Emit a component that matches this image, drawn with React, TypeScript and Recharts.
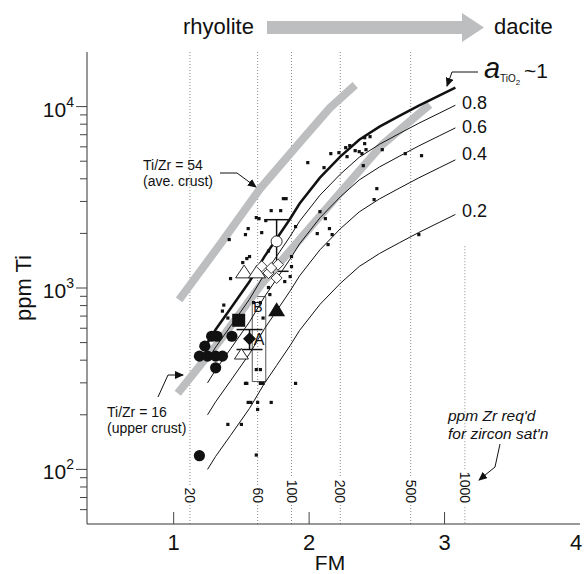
import React from 'react';
import {
  ScatterChart,
  Scatter,
  XAxis,
  YAxis,
  ReferenceLine,
  ReferenceArea,
  ErrorBar,
} from 'recharts';

const FONT = '"Liberation Sans", Arial, Helvetica, sans-serif';
const INK = '#111';
const BAND = '#bcbec0';

// a(TiO2) isopleths, read along FM
const curveFm = [1.25, 1.31, 1.42, 1.56, 1.67, 1.76, 1.86, 1.93, 2.08, 2.23, 2.37, 2.52, 2.67, 2.81, 2.96, 3.08];
const tiA10 = [500, 590, 770, 1085, 1490, 1870, 2410, 2920, 4060, 5300, 6570, 7750, 8910, 10120, 11490, 12720];
const tiA08 = [400, 472, 616, 868, 1192, 1496, 1928, 2336, 3248, 4240, 5256, 6200, 7128, 8096, 9192, 10176];
const tiA06 = [300, 354, 462, 651, 894, 1122, 1446, 1752, 2436, 3180, 3942, 4650, 5346, 6072, 6894, 7632];
const tiA04 = [200, 236, 308, 434, 596, 748, 964, 1168, 1624, 2120, 2628, 3100, 3564, 4048, 4596, 5088];
const tiA02 = [100, 118, 154, 217, 298, 374, 482, 584, 812, 1060, 1314, 1550, 1782, 2024, 2298, 2544];

// Ti/Zr reference bands
const band54Fm = [1.04, 1.34, 1.64, 1.93, 2.15, 2.34];
const band54Ti = [860, 1730, 3545, 6330, 9780, 13150];
const band16Fm = [1.03, 1.34, 1.64, 1.93, 2.23, 2.54, 2.89];
const band16Ti = [263, 511, 1032, 1849, 3357, 6169, 10250];

// Zr needed for zircon saturation
const zrLabels = ['20', '60', '100', '200', '500', '1000'];
const zrFm = [1.12, 1.62, 1.87, 2.23, 2.75, 3.15];
const zrTopTi = 1700; // the 1000 line starts lower

// small black squares (whole-rock / glass data)
const dotFm = [
  1.99, 2.11, 2.16, 2.22, 2.27, 2.30, 2.28, 2.34, 2.37, 2.41, 2.41, 2.45, 2.42, 2.39, 2.54, 2.40,
  2.71, 2.83, 2.50, 2.48, 2.81, 2.08, 2.12, 2.15, 2.17, 2.14, 2.06, 1.81, 1.83, 1.72, 1.79, 1.61,
  1.63, 1.68, 1.55, 1.53, 1.41, 1.65, 1.56, 1.54, 1.51, 1.42, 1.87, 1.87, 1.86, 1.82, 1.70, 1.71,
  1.70, 1.37, 1.36, 1.40, 1.66, 1.59, 1.64, 1.61, 1.64, 1.53, 1.54, 1.64, 1.66, 1.90, 1.55, 1.57,
  1.62, 1.72, 1.62, 1.40, 1.50, 1.61, 1.90,
];
const dotTi = [
  4911, 4609, 5505, 5574, 5940, 6093, 5298, 5718, 5646, 6742, 6250, 6829, 5790, 5505, 5790, 4726,
  5505, 5365, 3530, 3071, 1970, 2636, 2412, 2126, 1970, 1735, 1995, 3109, 3109, 2670, 2670, 2444,
  2412, 2353, 2126, 1970, 1849, 2020, 1490, 1453, 1381, 1127, 1490, 1313, 1156, 1085, 1006, 920,
  1598, 805, 746, 683, 683, 831, 831, 355, 355, 298, 298, 298, 298, 298, 234, 234,
  234, 234, 214, 177, 177, 120, 2181,
];

// individual unit symbols
const circleFm = [1.28, 1.32, 1.43, 1.23, 1.19, 1.25, 1.31, 1.36, 1.31, 1.19];
const circleTi = [542, 542, 542, 478, 421, 421, 421, 421, 363, 119];
const squareFm = [1.48];
const squareTi = [664];
const diamondFm = [1.56];
const diamondTi = [525];
const diamondErr = [[67, 65]];
const triFilledFm = [1.76];
const triFilledTi = [754];
const triOpenFm = [1.52, 1.615, 1.5];
const triOpenTi = [1220, 1220, 430];
const triOpenSize = [17, 17, 14];
const openCircleFm = [1.76];
const openCircleTi = [1807];
const openCircleErr = [[571, 573]];
const openDiamondFm = [1.65, 1.7, 1.76, 1.77, 1.72];
const openDiamondTi = [1316, 1209, 1135, 1345, 1289];
const boxFm = [1.58, 1.68];
const boxTi = [305, 897];

const yTicks = [60, 70, 80, 90, 100, 200, 300, 400, 500, 600, 700, 800, 900, 1000, 2000, 3000, 4000, 5000, 6000, 7000, 8000, 9000, 10000];
const yMajor: Record<number, string> = { 100: '2', 1000: '3', 10000: '4' };
const xTicks = [1, 2, 3, 4];
const xTopTicks = [1, 2, 3];

const pts = (xs: number[], ys: number[]) => xs.map((fm, i) => ({ fm, ti: ys[i] }));

const noShape = () => <g />;
const dotShape = (p: any) => <rect x={p.cx - 1.6} y={p.cy - 1.6} width={3.2} height={3.2} fill={INK} />;
const circleShape = (p: any) => <circle cx={p.cx} cy={p.cy} r={5.6} fill={INK} />;
const squareShape = (p: any) => <rect x={p.cx - 6.5} y={p.cy - 6.5} width={13} height={13} fill={INK} />;
const diamondShape = (p: any) => (
  <path d={`M${p.cx},${p.cy - 6.5} L${p.cx + 6.5},${p.cy} L${p.cx},${p.cy + 6.5} L${p.cx - 6.5},${p.cy} Z`} fill={INK} />
);
const triFilledShape = (p: any) => (
  <path d={`M${p.cx},${p.cy - 8} L${p.cx + 8.5},${p.cy + 6} L${p.cx - 8.5},${p.cy + 6} Z`} fill={INK} />
);
const triOpenShape = (p: any) => {
  const s = p.payload.size / 2;
  return (
    <path
      d={`M${p.cx},${p.cy - s * 0.85} L${p.cx + s},${p.cy + s * 0.65} L${p.cx - s},${p.cy + s * 0.65} Z`}
      fill="#fff"
      stroke={INK}
      strokeWidth={0.9}
    />
  );
};
const openCircleShape = (p: any) => <circle cx={p.cx} cy={p.cy} r={5.5} fill="#fff" stroke={INK} strokeWidth={0.9} />;
const openDiamondShape = (p: any) => (
  <path
    d={`M${p.cx},${p.cy - 5.5} L${p.cx + 5.5},${p.cy} L${p.cx},${p.cy + 5.5} L${p.cx - 5.5},${p.cy} Z`}
    fill="#fff"
    stroke={INK}
    strokeWidth={0.8}
  />
);

const LeftTick = (props: any) => {
  const { x, y, payload } = props;
  const exp = yMajor[payload.value];
  return (
    <g>
      <line x1={x - (exp ? 11 : 7)} x2={x} y1={y} y2={y} stroke="#444" />
      {exp && (
        <text x={x - 13} y={y + 10} textAnchor="end" fontSize={21} fontFamily={FONT} fill={INK}>
          10
          <tspan dy={-10} fontSize={14}>
            {exp}
          </tspan>
        </text>
      )}
    </g>
  );
};

const RightTick = (props: any) => {
  const { x, y, payload } = props;
  const len = yMajor[payload.value] ? 13 : 8;
  return <line x1={x - len} x2={x} y1={y} y2={y} stroke="#444" />;
};

const BottomTick = (props: any) => {
  const { x, y, payload } = props;
  const last = payload.value === 4;
  return (
    <g>
      {!last && <line x1={x} x2={x} y1={y - 12} y2={y} stroke="#444" />}
      <text x={last ? x - 4 : x} y={y + 26} textAnchor="middle" fontSize={22} fontFamily={FONT} fill={INK}>
        {payload.value}
      </text>
    </g>
  );
};

const TopTick = (props: any) => {
  const { x, y } = props;
  return <line x1={x} x2={x} y1={y} y2={y + 10} stroke="#444" />;
};

const ZrLabel = (props: any) => {
  const vb = props.viewBox || {};
  const x = vb.x;
  const yb = vb.y + vb.height - 21;
  const len = props.text.length * 7.8;
  return (
    <g>
      <rect x={x - 6} y={yb - len - 2} width={12} height={len + 4} fill="#fff" />
      <text
        x={x}
        y={yb}
        transform={`rotate(90 ${x} ${yb})`}
        textAnchor="end"
        dominantBaseline="central"
        fontSize={14}
        fontFamily={FONT}
        fill={INK}
      >
        {props.text}
      </text>
    </g>
  );
};

const curves = [
  { ti: tiA10, w: 2.5 },
  { ti: tiA08, w: 1 },
  { ti: tiA06, w: 1 },
  { ti: tiA04, w: 1 },
  { ti: tiA02, w: 1 },
];

export default function App() {
  const diamondData = diamondFm.map((fm, i) => ({ fm, ti: diamondTi[i], err: diamondErr[i] }));
  const openCircleData = openCircleFm.map((fm, i) => ({ fm, ti: openCircleTi[i], err: openCircleErr[i] }));
  const triOpenData = triOpenFm.map((fm, i) => ({ fm, ti: triOpenTi[i], size: triOpenSize[i] }));

  return (
    <div style={{ position: 'absolute', left: 0, top: 0, width: 584, height: 574, background: '#fff' }}>
      <ScatterChart width={584} height={574} margin={{ top: 52, right: 4, bottom: 20, left: 0 }}>
        <XAxis
          xAxisId="b"
          dataKey="fm"
          type="number"
          domain={[0.36, 4]}
          allowDataOverflow
          ticks={xTicks}
          interval={0}
          height={30}
          tickSize={0}
          tickMargin={0}
          tickLine={false}
          axisLine={{ stroke: '#333' }}
          tick={<BottomTick />}
        />
        <XAxis
          xAxisId="t"
          orientation="top"
          dataKey="fm"
          type="number"
          domain={[0.36, 4]}
          allowDataOverflow
          ticks={xTopTicks}
          interval={0}
          height={0}
          tickSize={0}
          tickMargin={0}
          tickLine={false}
          axisLine={{ stroke: '#333' }}
          tick={<TopTick />}
        />
        <YAxis
          yAxisId="l"
          dataKey="ti"
          type="number"
          scale="log"
          domain={[50, 20000]}
          allowDataOverflow
          ticks={yTicks}
          interval={0}
          width={87}
          tickSize={0}
          tickMargin={0}
          tickLine={false}
          axisLine={{ stroke: '#333' }}
          tick={<LeftTick />}
        />
        <YAxis
          yAxisId="r"
          orientation="right"
          dataKey="ti"
          type="number"
          scale="log"
          domain={[50, 20000]}
          allowDataOverflow
          ticks={yTicks}
          interval={0}
          width={0}
          tickSize={0}
          tickMargin={0}
          tickLine={false}
          axisLine={{ stroke: '#333' }}
          tick={<RightTick />}
        />

        {zrFm.map((fm, i) =>
          i < zrFm.length - 1 ? (
            <ReferenceLine
              key={zrLabels[i]}
              xAxisId="b"
              yAxisId="l"
              x={fm}
              stroke="#8a8a8a"
              strokeDasharray="1 2"
              label={<ZrLabel text={zrLabels[i]} />}
            />
          ) : (
            <ReferenceLine
              key={zrLabels[i]}
              xAxisId="b"
              yAxisId="l"
              segment={[
                { x: fm, y: zrTopTi },
                { x: fm, y: 50 },
              ]}
              stroke="#8a8a8a"
              strokeDasharray="1 2"
              label={<ZrLabel text={zrLabels[i]} />}
            />
          )
        )}

        <Scatter
          xAxisId="b"
          yAxisId="l"
          data={pts(band54Fm, band54Ti)}
          line={{ stroke: BAND, strokeWidth: 8 }}
          shape={noShape}
          isAnimationActive={false}
        />
        <Scatter
          xAxisId="b"
          yAxisId="l"
          data={pts(band16Fm, band16Ti)}
          line={{ stroke: BAND, strokeWidth: 8 }}
          shape={noShape}
          isAnimationActive={false}
        />
        {curves.map((c, i) => (
          <Scatter
            key={i}
            xAxisId="b"
            yAxisId="l"
            data={pts(curveFm, c.ti)}
            line={{ stroke: INK, strokeWidth: c.w }}
            shape={noShape}
            isAnimationActive={false}
          />
        ))}

        <ReferenceArea
          xAxisId="b"
          yAxisId="l"
          x1={boxFm[0]}
          x2={boxFm[1]}
          y1={boxTi[0]}
          y2={boxTi[1]}
          fill="#fff"
          fillOpacity={1}
          stroke="#555"
          strokeWidth={1}
        />

        <Scatter xAxisId="b" yAxisId="l" data={pts(dotFm, dotTi)} shape={dotShape} isAnimationActive={false} />
        <Scatter xAxisId="b" yAxisId="l" data={pts(circleFm, circleTi)} shape={circleShape} isAnimationActive={false} />
        <Scatter xAxisId="b" yAxisId="l" data={pts(squareFm, squareTi)} shape={squareShape} isAnimationActive={false} />
        <Scatter xAxisId="b" yAxisId="l" data={diamondData} shape={diamondShape} isAnimationActive={false}>
          <ErrorBar dataKey="err" direction="y" width={13} stroke={INK} strokeWidth={1.5} />
        </Scatter>
        <Scatter xAxisId="b" yAxisId="l" data={pts(triFilledFm, triFilledTi)} shape={triFilledShape} isAnimationActive={false} />
        <Scatter xAxisId="b" yAxisId="l" data={triOpenData} shape={triOpenShape} isAnimationActive={false} />
        <Scatter xAxisId="b" yAxisId="l" data={pts(openDiamondFm, openDiamondTi)} shape={openDiamondShape} isAnimationActive={false} />
        <Scatter xAxisId="b" yAxisId="l" data={openCircleData} shape={openCircleShape} isAnimationActive={false}>
          <ErrorBar dataKey="err" direction="y" width={12} stroke={INK} strokeWidth={1.5} />
        </Scatter>
      </ScatterChart>

      <svg
        width={584}
        height={574}
        style={{ position: 'absolute', left: 0, top: 0, pointerEvents: 'none' }}
        fontFamily={FONT}
        fill={INK}
      >
        <defs>
          <marker id="ah" markerWidth="9" markerHeight="8" refX="8" refY="4" orient="auto" markerUnits="userSpaceOnUse">
            <path d="M0,0 L9,4 L0,8 Z" fill={INK} />
          </marker>
        </defs>

        {/* rhyolite -> dacite */}
        <text x={183} y={34} fontSize={22}>rhyolite</text>
        <path d="M267,21 L462,21 L462,13 L484,27.5 L462,42 L462,34 L267,34 Z" fill={BAND} />
        <text x={494} y={34} fontSize={22}>dacite</text>

        {/* axis titles */}
        <text x={330} y={570} fontSize={21} textAnchor="middle">FM</text>
        <text x={31} y={288} fontSize={22} textAnchor="middle" transform="rotate(-90 31 288)">ppm Ti</text>

        {/* isopleth labels */}
        <text x={484} y={78} fontSize={29} fontStyle="italic">a</text>
        <text x={500} y={82} fontSize={10}>TiO<tspan dy={3} fontSize={8}>2</tspan></text>
        <text x={524} y={78} fontSize={21}>~1</text>
        <polyline points="478,72 452,72 447,86" fill="none" stroke={INK} strokeWidth={1} markerEnd="url(#ah)" />
        <text x={462} y={109} fontSize={18}>0.8</text>
        <text x={462} y={133} fontSize={18}>0.6</text>
        <text x={462} y={160} fontSize={18}>0.4</text>
        <text x={462} y={217} fontSize={18}>0.2</text>

        {/* Ti/Zr notes */}
        <text x={143} y={170} fontSize={14}>Ti/Zr = 54</text>
        <text x={143} y={186} fontSize={14}>(ave. crust)</text>
        <polyline points="220,173 237,173 256,187" fill="none" stroke={INK} strokeWidth={1} markerEnd="url(#ah)" />
        <text x={107} y={417} fontSize={14}>Ti/Zr = 16</text>
        <text x={107} y={433} fontSize={14}>(upper crust)</text>
        <polyline points="158,397 168,375 183,375" fill="none" stroke={INK} strokeWidth={1} markerEnd="url(#ah)" />

        {/* zircon saturation note */}
        <text x={448} y={421} fontSize={15.5} fontStyle="italic">ppm Zr req'd</text>
        <text x={448} y={439} fontSize={15.5} fontStyle="italic">for zircon sat'n</text>
        <polyline points="500,444 495,467 479,480" fill="none" stroke={INK} strokeWidth={1} markerEnd="url(#ah)" />

        {/* unit labels */}
        <text x={258} y={312} fontSize={14} textAnchor="middle">B</text>
        <text x={259} y={345} fontSize={16} textAnchor="middle">A</text>
      </svg>
    </div>
  );
}
